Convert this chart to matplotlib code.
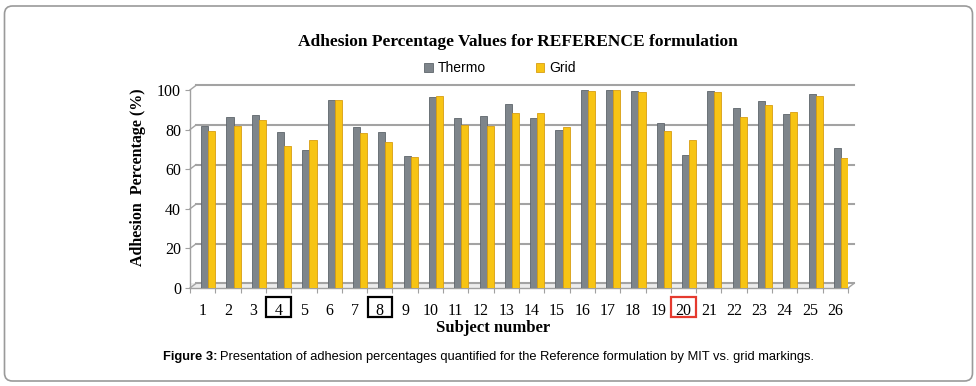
import numpy as np
import matplotlib
matplotlib.use('Agg')
import matplotlib.pyplot as plt
from matplotlib.patches import FancyBboxPatch, Rectangle

# data
subjects = [str(i) for i in range(1, 27)]
thermo = [82, 86.5, 87.5, 79, 69.5, 95, 81.5, 79, 66.5, 96.5, 86, 87, 93, 86,
          80, 100, 100, 99.5, 83.5, 67, 99.5, 91, 94.5, 88, 98, 70.5]
grid = [79.5, 82, 85, 71.5, 74.5, 95, 78.5, 73.5, 66, 97, 82.5, 82, 88.5, 88.5,
        81.5, 99.5, 100, 99, 79.5, 75, 99, 86.5, 92.5, 89, 97, 65.5]
boxed = {'4': 'black', '8': 'black', '20': '#e53a2e'}

W, H = 976, 386
fig = plt.figure(figsize=(W/100., H/100.), dpi=100)
serif = 'Liberation Serif'
sans = 'Liberation Sans'

def px(x, y):
    return x/W, 1 - y/H

# outer rounded frame
fig.add_artist(FancyBboxPatch((0.045, 0.05), 9.68, 3.75, boxstyle='round,pad=0,rounding_size=0.08',
                              transform=fig.dpi_scale_trans, fc='none', ec='#9a9a9a', lw=1.2))

x0, y0 = px(190, 288)
x1, y1 = px(848, 90)
ax = fig.add_axes([x0, y0, x1-x0, y1-y0])
ax.patch.set_visible(False)

n = len(subjects)
idx = np.arange(n)
bw = 0.28
ax.bar(idx + 0.08, thermo, bw, color='#7e858b', edgecolor='#5e656b', lw=0.6, label='Thermo', zorder=3)
ax.bar(idx + 0.36, grid, bw, color='#f7c414', edgecolor='#d89e12', lw=0.6, label='Grid', zorder=3)

ax.set_xlim(-0.5, n-0.5)
ax.set_ylim(0, 100)

# back wall gridlines and floor, drawn in perspective
gc = '#a3a3a3'
dx = 6./658
dy = 2.3
tr = ax.get_yaxis_transform()
for v in range(0, 101, 20):
    ax.plot([dx, 1+dx], [v+dy, v+dy], color=gc, lw=1.5, transform=tr, clip_on=False, zorder=1)
    ax.plot([0, dx], [v, v+dy], color=gc, lw=1.0, transform=tr, clip_on=False, zorder=1)
ax.plot([1, 1+dx], [0, dy], color=gc, lw=1.0, transform=tr, clip_on=False, zorder=1)
ax.fill_between([0, 1], [0, 0], [dy, dy], transform=tr, color='#ececec', lw=0, zorder=0)

for s in ['top', 'right']:
    ax.spines[s].set_visible(False)
ax.spines['left'].set_color('#a0a0a0')
ax.spines['bottom'].set_color('#a0a0a0')
ax.spines['left'].set_linewidth(1.0)
ax.spines['bottom'].set_linewidth(1.0)

ax.set_yticks(range(0, 101, 20))
ax.tick_params(axis='y', length=3.5, color='#a0a0a0', pad=3, labelsize=11.5)
ax.set_xticks(np.arange(-0.5, n, 1.0))
ax.set_xticklabels([])
ax.set_xticks(idx, minor=True)
ax.set_xticklabels(subjects, minor=True)
ax.tick_params(axis='x', which='major', length=3.5, color='#a0a0a0', direction='out')
ax.tick_params(axis='x', which='minor', length=0, pad=10.5, labelsize=11.5)
for lab in ax.get_xticklabels(minor=True) + ax.get_yticklabels():
    lab.set_family(serif)

# boxes round highlighted subject numbers
btr = ax.get_xaxis_transform()
for s, c in boxed.items():
    i = subjects.index(s)
    ax.add_patch(Rectangle((i - 0.48, -0.148), 0.96, 0.102, transform=btr, fill=False,
                           ec=c, lw=1.6, clip_on=False))

fig.text(*px(518, 42), 'Adhesion Percentage Values for REFERENCE formulation', ha='center', va='center',
         family=serif, fontweight='bold', fontsize=12.5)
fig.text(*px(138, 177), 'Adhesion  Percentage (%)', rotation=90, ha='center', va='center',
         family=serif, fontweight='bold', fontsize=11.5)
fig.text(*px(493, 328), 'Subject number', ha='center', va='center',
         family=serif, fontweight='bold', fontsize=12)

leg = fig.legend(loc='center', bbox_to_anchor=px(500, 68), ncol=2, frameon=False,
                 prop={'family': sans, 'size': 10}, handlelength=0.6, handleheight=0.6,
                 handletextpad=0.35, columnspacing=3.6)

# caption with bold lead
fig.canvas.draw()
r = fig.canvas.get_renderer()
t1 = fig.text(*px(163, 357), 'Figure 3:', ha='left', va='center', family=sans, fontweight='bold', fontsize=9.25)
w1 = t1.get_window_extent(r).width
fig.text((163 + w1 + 3)/W, 1 - 357/H,
         'Presentation of adhesion percentages quantified for the Reference formulation by MIT vs. grid markings.',
         ha='left', va='center', family=sans, fontsize=9.25)

plt.savefig('out.png', dpi=100)
